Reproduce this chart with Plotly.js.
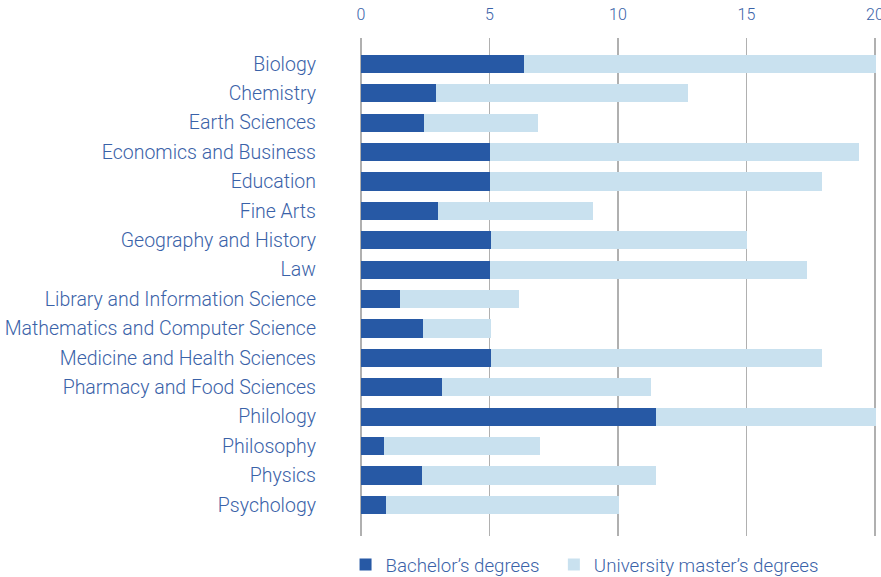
<!DOCTYPE html>
<html><head><meta charset="utf-8">
<script src="https://cdn.plot.ly/plotly-3.0.1.min.js"></script>
<style>html,body{margin:0;padding:0;background:#fff}#chart{width:881px;height:577px}</style>
</head><body><div id="chart"></div>
<script>
const categories = ["Biology","Chemistry","Earth Sciences","Economics and Business","Education","Fine Arts","Geography and History","Law","Library and Information Science","Mathematics and Computer Science","Medicine and Health Sciences","Pharmacy and Food Sciences","Philology","Philosophy","Physics","Psychology"];
const bachelors = [6.35,2.93,2.47,5.03,5.03,3.01,5.07,5.03,1.50,2.43,5.07,3.17,11.49,0.91,2.39,0.99];
const masters = [14.0,9.80,4.43,14.34,12.90,6.03,9.95,12.32,4.66,2.64,12.86,8.12,9.0,6.07,9.10,9.06];
const seriesNames = ["Bachelor’s degrees","University master’s degrees"];
const xTicks = [0,5,10,15,20];

const txt = "#3a62a8";
const fontFam = "Roboto, 'Open Sans', sans-serif";
const data = [
  {type:"bar", orientation:"h", name:seriesNames[0], y:categories, x:bachelors, marker:{color:"#2759a5"}, width:0.62, legend:"legend"},
  {type:"bar", orientation:"h", name:seriesNames[1], y:categories, x:masters, marker:{color:"#c9e1ef"}, width:0.62, legend:"legend2"}
];
const legFont = {size:18.7, color:txt, family:fontFam, weight:300};
const layout = {
  width:881, height:577,
  margin:{l:361, r:5, t:38, b:41, autoexpand:false},
  barmode:"stack",
  paper_bgcolor:"#fff", plot_bgcolor:"#fff",
  font:{family:fontFam, color:txt, size:18, weight:300},
  xaxis:{side:"top", range:[0,20.04], tickvals:xTicks, ticktext:xTicks.map(String),
    showgrid:true, gridcolor:"#b0b0b0", gridwidth:1.5, zeroline:true, zerolinecolor:"#b0b0b0", zerolinewidth:1.5,
    showline:false, ticks:"", ticklabelstandoff:14, ticklabeloverflow:"allow",
    tickfont:{size:16, color:txt, family:fontFam, weight:300}, automargin:false},
  yaxis:{type:"category", range:[16.06,-0.88], showgrid:false, zeroline:false, ticks:"", ticklabelstandoff:44,
    tickfont:{size:19.5, color:txt, family:fontFam, weight:300}, automargin:false},
  showlegend:true,
  legend:{orientation:"h", x:-0.03, xanchor:"left", yref:"container", y:0.021, yanchor:"middle", font:legFont, itemwidth:30},
  legend2:{orientation:"h", x:0.3745, xanchor:"left", yref:"container", y:0.021, yanchor:"middle", font:legFont, itemwidth:30}
};
Plotly.newPlot("chart", data, layout, {displayModeBar:false, staticPlot:true});
</script></body></html>
